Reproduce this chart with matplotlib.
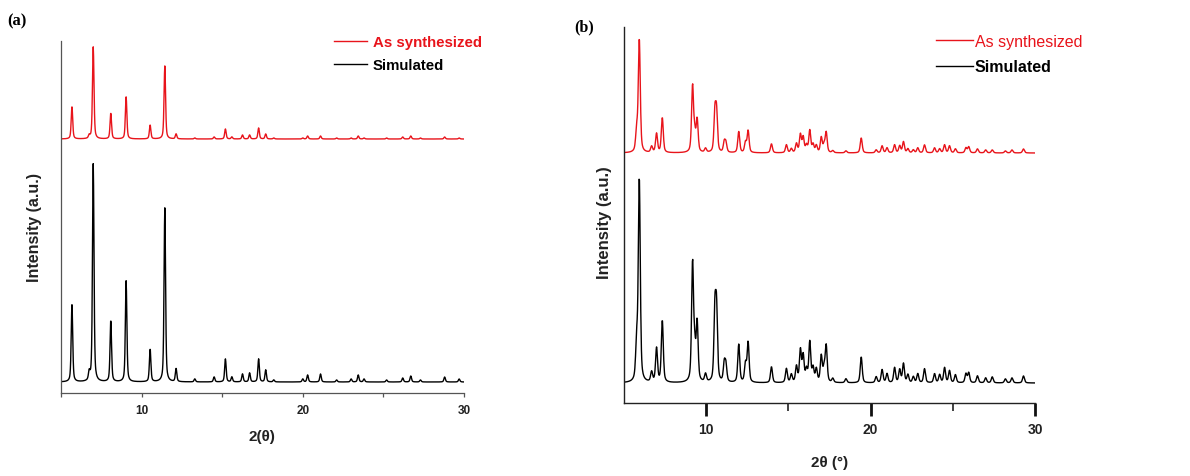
import numpy as np
import matplotlib
matplotlib.use("Agg")
import matplotlib.pyplot as plt

# ---------------- data: peak positions (2θ, deg) and intensities ----------------
# Panel (a)
peaks_a_pos = [5.68, 6.75, 7.0, 8.09, 9.04, 10.53, 11.44, 12.14, 13.3, 14.5,
               15.2, 15.6, 16.26, 16.7, 17.26, 17.7, 18.2, 20.0, 20.3, 21.1,
               22.1, 23.0, 23.44, 23.8, 25.2, 26.2, 26.7, 27.3, 28.8, 29.7]
sim_a_int = [77, 8, 218, 62, 101, 33, 174, 13, 3, 5,
             23, 5, 8, 9, 23, 12, 2, 3, 7, 8,
             2, 3, 7, 3, 2, 4, 6, 2, 5, 3]
exp_a_int = [32, 3, 92, 26, 42, 14, 73, 5, 1, 2,
             10, 2, 4, 4, 11, 5, 1, 1, 3, 3,
             1, 1, 3, 1, 1, 2, 3, 1, 2, 1]

# Panel (b)
peaks_b_pos = [5.77, 5.93, 6.68, 6.98, 7.33, 9.17, 9.3, 9.45, 9.96, 10.53,
               10.63, 11.1, 11.2, 11.98, 12.39, 12.55, 13.97, 14.88, 15.18, 15.49,
               15.73, 15.9, 16.1, 16.3, 16.5, 16.7, 17.0, 17.17, 17.3, 17.7,
               18.5, 19.43, 20.34, 20.7, 21.0, 21.46, 21.77, 22.0, 22.27, 22.6,
               22.87, 23.28, 23.89, 24.2, 24.5, 24.8, 25.16, 25.8, 25.97, 26.5,
               27.0, 27.4, 28.2, 28.6, 29.3]
sim_b_int = [36, 203, 10, 34, 62, 118, 28, 58, 8, 68,
             68, 18, 16, 38, 18, 40, 16, 14, 8, 16,
             32, 26, 12, 40, 14, 13, 26, 13, 36, 4,
             4, 26, 6, 13, 9, 15, 13, 19, 8, 6,
             9, 14, 9, 8, 15, 12, 8, 9, 10, 7,
             5, 6, 4, 5, 7]
exp_b_int = [20, 113, 6, 19, 35, 66, 16, 32, 4, 38,
             38, 10, 9, 21, 10, 22, 9, 8, 4, 9,
             18, 15, 7, 22, 8, 7, 15, 7, 20, 2,
             2, 15, 3, 7, 5, 8, 7, 11, 4, 3,
             5, 8, 5, 4, 8, 7, 4, 5, 6, 4,
             3, 3, 2, 3, 4]

x_ticks = [10, 20, 30]
x_minor = [5, 15, 25]


def pattern(x, pos, inten, fwhm, eta=0.5):
    """Pseudo-Voigt powder pattern from a peak list."""
    y = np.zeros_like(x)
    hw = fwhm / 2.0
    for p, h in zip(pos, inten):
        d = x - p
        lor = 1.0 / (1.0 + (d / hw) ** 2)
        gau = np.exp(-np.log(2) * (d / hw) ** 2)
        y += h * (eta * lor + (1 - eta) * gau)
    return y


x = np.arange(5.0, 30.0001, 0.02)

plt.rcParams['font.family'] = ['Liberation Sans', 'DejaVu Sans']
fig = plt.figure(figsize=(11.9, 4.77), dpi=100)

W, H = 1190.0, 477.0


def axes_px(l, t, r, b):
    return fig.add_axes([l / W, 1 - b / H, (r - l) / W, (b - t) / H])


# ---------------- panel (a) ----------------
axa = axes_px(61, 42, 464, 394)
ya_sim = pattern(x, peaks_a_pos, sim_a_int, 0.11)
ya_exp = pattern(x, peaks_a_pos, exp_a_int, 0.11)
off_a = 243
axa.plot(x, ya_exp + off_a, color='#e8141b', lw=1.0, label='As synthesized')
axa.plot(x, ya_sim, color='black', lw=1.0, label='Simulated')
axa.set_xlim(5, 30)
axa.set_ylim(-11, 341)
for s in ['top', 'right']:
    axa.spines[s].set_visible(False)
for s in ['left', 'bottom']:
    axa.spines[s].set_color('#555555')
    axa.spines[s].set_linewidth(0.9)
axa.set_yticks([])
axa.set_xticks(x_ticks)
axa.set_xticks(x_minor, minor=True)
axa.tick_params(axis='x', which='both', direction='out', length=3, width=0.9,
                color='#555555', pad=5, labelsize=8.5)
for t in axa.get_xticklabels():
    t.set_fontweight('bold')
    t.set_color('#222222')
leg = axa.legend(loc='upper left', bbox_to_anchor=(334 / W, 1 - 36 / H),
                 bbox_transform=fig.transFigure, frameon=False, fontsize=10.8,
                 handlelength=2.2, handletextpad=0.4, labelspacing=0.6,
                 borderpad=0, borderaxespad=0)
for txt, c in zip(leg.get_texts(), ['#e8141b', 'black']):
    txt.set_color(c)
    txt.set_fontweight('bold')

fig.text(262 / W, 1 - 437 / H, '2(θ)', ha='center', va='center',
         fontsize=11, fontweight='bold', color='#222222')
fig.text(34 / W, 1 - 228 / H, 'Intensity (a.u.)', ha='center', va='center',
         rotation=90, fontsize=11.5, fontweight='bold', color='#222222')
fig.text(17 / W, 1 - 21 / H, '(a)', ha='center', va='center', fontsize=12,
         fontweight='bold', family='Liberation Serif')

# ---------------- panel (b) ----------------
axb = axes_px(624, 28, 1035, 404)
yb_sim = pattern(x, peaks_b_pos, sim_b_int, 0.14)
yb_exp = pattern(x, peaks_b_pos, exp_b_int, 0.14)
off_b = 230
axb.plot(x, yb_exp + off_b, color='#e8141b', lw=1.0, label='As synthesized')
axb.plot(x, yb_sim, color='black', lw=1.0, label='Simulated')
axb.set_xlim(5, 30)
axb.set_ylim(-20, 356)
for s in ['top', 'right']:
    axb.spines[s].set_visible(False)
for s in ['left', 'bottom']:
    axb.spines[s].set_color('#222222')
    axb.spines[s].set_linewidth(1.0)
axb.set_yticks([])
axb.set_xticks(x_ticks)
axb.set_xticks([15, 25], minor=True)
axb.tick_params(axis='x', which='major', direction='out', length=9, width=2.0,
                color='#111111', pad=5, labelsize=10)
axb.tick_params(axis='x', which='minor', direction='out', length=6, width=1.3,
                color='#333333')
for t in axb.get_xticklabels():
    t.set_fontweight('bold')
    t.set_color('#222222')
leg = axb.legend(loc='upper left', bbox_to_anchor=(936 / W, 1 - 35 / H),
                 bbox_transform=fig.transFigure, frameon=False, fontsize=11.5,
                 handlelength=2.3, handletextpad=0.12, labelspacing=0.65,
                 borderpad=0, borderaxespad=0)
for txt, c, w in zip(leg.get_texts(), ['#e8141b', 'black'], ['normal', 'bold']):
    txt.set_color(c)
    txt.set_fontweight(w)

fig.text(830 / W, 1 - 463 / H, '2θ (°)', ha='center', va='center',
         fontsize=11, fontweight='bold', color='#222222')
fig.text(605 / W, 1 - 223 / H, 'Intensity (a.u.)', ha='center', va='center',
         rotation=90, fontsize=12, fontweight='bold', color='#222222')
fig.text(584 / W, 1 - 27 / H, '(b)', ha='center', va='center', fontsize=11.5,
         fontweight='bold', family='Liberation Serif')

fig.savefig('out.png', dpi=100)
